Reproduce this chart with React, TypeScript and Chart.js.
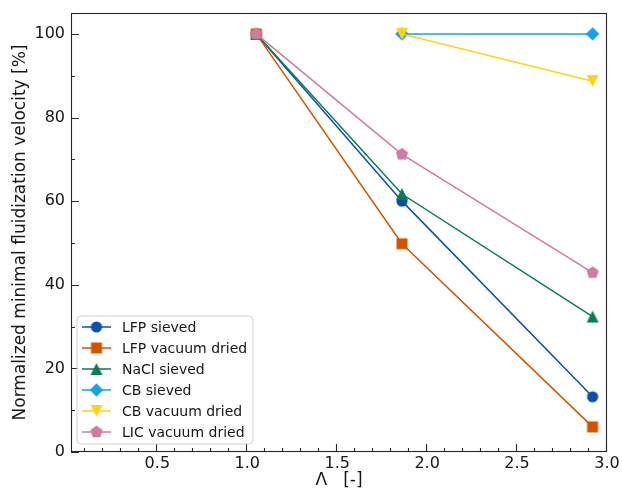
import React, { useEffect, useRef } from 'react';
import { Chart, registerables } from 'chart.js';

Chart.register(...registerables);

// ---- data ----
const lambdaValues = [1.05, 1.86, 2.92];
const lfpSieved = [100, 60.0, 13.2];
const lfpVacuumDried = [100, 49.8, 6.0];
const naclSieved = [100, 61.7, 32.4];
const cbSieved = [null, 100, 100];
const cbVacuumDried = [null, 100, 88.7];
const licVacuumDried = [100, 71.2, 42.9];

const seriesLabels = [
  'LFP sieved',
  'LFP vacuum dried',
  'NaCl sieved',
  'CB sieved',
  'CB vacuum dried',
  'LIC vacuum dried',
];
const seriesColors = ['#0b50a6', '#d35400', '#0b7b55', '#16a3e4', '#fdd31a', '#d07ba3'];
const seriesMarkers = ['circle', 'square', 'triangleUp', 'diamond', 'triangleDown', 'pentagon'];

const xTickValues = [0.5, 1.0, 1.5, 2.0, 2.5, 3.0];
const yTickValues = [0, 20, 40, 60, 80, 100];
const xMin = 0.02;
const xMax = 3.0;
const yMin = 0;
const yMax = 105;
const xTitle = 'Λ   [-]';
const yTitle = 'Normalized minimal fluidization velocity [%]';

const FONT = "'DejaVu Sans', sans-serif";
const INK = '#161616';

function makeMarker(shape: string, color: string): HTMLCanvasElement {
  const c = document.createElement('canvas');
  c.width = 16;
  c.height = 16;
  const ctx = c.getContext('2d')!;
  const cx = 8;
  const cy = 8;
  ctx.fillStyle = color;
  ctx.beginPath();
  switch (shape) {
    case 'circle':
      ctx.arc(cx, cy, 5.6, 0, Math.PI * 2);
      break;
    case 'square':
      ctx.rect(cx - 5.5, cy - 5.5, 11, 11);
      break;
    case 'triangleUp':
      ctx.moveTo(cx, cy - 6);
      ctx.lineTo(cx + 6, cy + 6);
      ctx.lineTo(cx - 6, cy + 6);
      break;
    case 'triangleDown':
      ctx.moveTo(cx, cy + 6);
      ctx.lineTo(cx + 6, cy - 6);
      ctx.lineTo(cx - 6, cy - 6);
      break;
    case 'diamond':
      ctx.moveTo(cx, cy - 6.8);
      ctx.lineTo(cx + 6.8, cy);
      ctx.lineTo(cx, cy + 6.8);
      ctx.lineTo(cx - 6.8, cy);
      break;
    case 'pentagon': {
      const R = 6.4;
      for (let k = 0; k < 5; k++) {
        const a = -Math.PI / 2 + (k * 2 * Math.PI) / 5;
        const px = cx + R * Math.cos(a);
        const py = cy + R * Math.sin(a);
        if (k === 0) ctx.moveTo(px, py);
        else ctx.lineTo(px, py);
      }
      break;
    }
  }
  ctx.closePath();
  ctx.fill();
  return c;
}

export default function App() {
  const ref = useRef<HTMLCanvasElement | null>(null);

  useEffect(() => {
    if (!ref.current) return;
    const markers = seriesMarkers.map((m, i) => makeMarker(m, seriesColors[i]));
    const seriesValues = [lfpSieved, lfpVacuumDried, naclSieved, cbSieved, cbVacuumDried, licVacuumDried];

    const framePlugin = {
      id: 'frameTicksLegend',
      afterDraw(chart: any) {
        const ctx = chart.ctx as CanvasRenderingContext2D;
        const { left, right, top, bottom } = chart.chartArea;
        const xs = chart.scales.x;
        const ys = chart.scales.y;
        ctx.save();
        // spines
        ctx.strokeStyle = '#262626';
        ctx.lineWidth = 1.1;
        ctx.strokeRect(left + 0.5, top + 0.5, right - left - 1, bottom - top - 1);
        // ticks (inward)
        ctx.beginPath();
        for (const v of xTickValues) {
          const p = Math.round(xs.getPixelForValue(v)) - 0.5;
          ctx.moveTo(p, bottom);
          ctx.lineTo(p, bottom - 8);
        }
        for (let i = 1; i < 30; i++) {
          if (i % 5 === 0) continue;
          const p = Math.round(xs.getPixelForValue(i / 10)) - 0.5;
          ctx.moveTo(p, bottom);
          ctx.lineTo(p, bottom - 4);
        }
        for (const v of yTickValues) {
          const p = Math.round(ys.getPixelForValue(v)) + 0.5;
          ctx.moveTo(left, p);
          ctx.lineTo(left + 8, p);
        }
        for (let v = 10; v < 105; v += 20) {
          const p = Math.round(ys.getPixelForValue(v)) + 0.5;
          ctx.moveTo(left, p);
          ctx.lineTo(left + 4, p);
        }
        ctx.stroke();

        // legend
        const bx = left + 6;
        const bw = 176;
        const bh = 128;
        const by = bottom - 8 - bh;
        const r = 4;
        ctx.beginPath();
        ctx.moveTo(bx + r, by);
        ctx.lineTo(bx + bw - r, by);
        ctx.arcTo(bx + bw, by, bx + bw, by + r, r);
        ctx.lineTo(bx + bw, by + bh - r);
        ctx.arcTo(bx + bw, by + bh, bx + bw - r, by + bh, r);
        ctx.lineTo(bx + r, by + bh);
        ctx.arcTo(bx, by + bh, bx, by + bh - r, r);
        ctx.lineTo(bx, by + r);
        ctx.arcTo(bx, by, bx + r, by, r);
        ctx.closePath();
        ctx.fillStyle = 'rgba(255,255,255,0.8)';
        ctx.fill();
        ctx.strokeStyle = 'rgba(204,204,204,0.9)';
        ctx.lineWidth = 1;
        ctx.stroke();

        ctx.font = `14px ${FONT}`;
        ctx.textBaseline = 'middle';
        ctx.textAlign = 'left';
        seriesLabels.forEach((label, i) => {
          const cy = by + 11 + i * 21;
          ctx.strokeStyle = seriesColors[i];
          ctx.lineWidth = 1.5;
          ctx.beginPath();
          ctx.moveTo(bx + 5, cy);
          ctx.lineTo(bx + 34, cy);
          ctx.stroke();
          ctx.drawImage(markers[i], bx + 19.5 - 8, cy - 8);
          ctx.fillStyle = INK;
          ctx.fillText(label, bx + 45, cy + 1);
        });
        ctx.restore();
      },
    };

    const chart = new Chart(ref.current, {
      type: 'line',
      data: {
        datasets: seriesValues.map((vals, i) => ({
          label: seriesLabels[i],
          data: lambdaValues
            .map((x, j) => ({ x, y: vals[j] }))
            .filter((p) => p.y !== null),
          borderColor: seriesColors[i],
          backgroundColor: seriesColors[i],
          borderWidth: 1.5,
          pointStyle: markers[i],
          pointRadius: 6,
          pointHoverRadius: 6,
          tension: 0,
          order: -i,
          clip: false,
        })),
      },
      options: {
        animation: false,
        responsive: false,
        events: [],
        layout: { padding: { top: 13, right: 15, left: 0, bottom: 0 } },
        plugins: {
          legend: { display: false },
          tooltip: { enabled: false },
        },
        scales: {
          x: {
            type: 'linear',
            min: xMin,
            max: xMax,
            grid: { display: false, drawTicks: false },
            border: { display: false },
            afterBuildTicks: (scale: any) => {
              scale.ticks = xTickValues.map((value) => ({ value }));
            },
            afterFit: (scale: any) => {
              scale.height = 39;
              scale.paddingLeft = 0;
              scale.paddingRight = 0;
              scale.paddingTop = 0;
              scale.paddingBottom = 0;
            },
            ticks: {
              padding: 2,
              maxRotation: 0,
              autoSkip: false,
              color: INK,
              font: { family: FONT, size: 16 },
              callback: (v: any) => Number(v).toFixed(1),
            },
            title: {
              display: true,
              text: xTitle,
              color: INK,
              font: { family: FONT, size: 17 },
              padding: { top: 0, bottom: 0 },
            },
          },
          y: {
            type: 'linear',
            min: yMin,
            max: yMax,
            grid: { display: false, drawTicks: false },
            border: { display: false },
            afterBuildTicks: (scale: any) => {
              scale.ticks = yTickValues.map((value) => ({ value }));
            },
            afterFit: (scale: any) => {
              scale.width = 71;
              scale.paddingLeft = 0;
              scale.paddingRight = 0;
              scale.paddingTop = 0;
              scale.paddingBottom = 0;
            },
            ticks: {
              padding: 6,
              autoSkip: false,
              color: INK,
              font: { family: FONT, size: 16 },
              callback: (v: any) => String(Math.round(Number(v))),
            },
            title: {
              display: true,
              text: yTitle,
              color: INK,
              font: { family: FONT, size: 17 },
              padding: { top: 10, bottom: 0 },
            },
          },
        },
      },
      plugins: [framePlugin],
    } as any);

    return () => chart.destroy();
  }, []);

  return (
    <div style={{ position: 'absolute', left: 0, top: 0, width: 622, height: 491, background: '#fff' }}>
      <canvas ref={ref} width={622} height={491} style={{ display: 'block' }} />
    </div>
  );
}
